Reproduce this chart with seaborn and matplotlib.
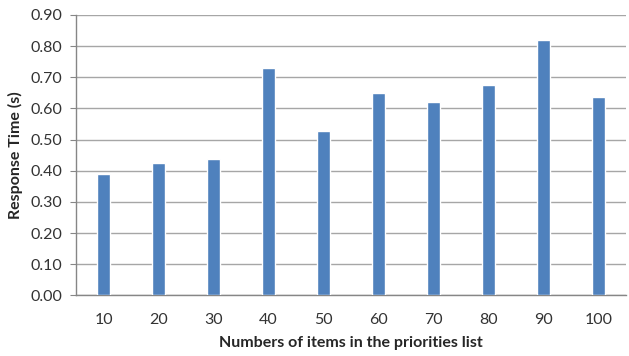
import matplotlib
matplotlib.use("Agg")
import matplotlib.pyplot as plt
import seaborn as sns
import pandas as pd

# values
items = ["10", "20", "30", "40", "50", "60", "70", "80", "90", "100"]
response_time = [0.390, 0.426, 0.439, 0.731, 0.526, 0.648, 0.619, 0.676, 0.818, 0.636]
y_ticks = [0.0, 0.1, 0.2, 0.3, 0.4, 0.5, 0.6, 0.7, 0.8, 0.9]

df = pd.DataFrame({"items": items, "time": response_time})

sns.set_style("white")
plt.rcParams["font.family"] = ["Lato", "DejaVu Sans"]

fig = plt.figure(figsize=(6.29, 3.56), dpi=100)
ax = fig.add_axes([0.121, 0.1705, 0.874, 0.7875])

sns.barplot(data=df, x="items", y="time", color="#4F81BD", width=0.245,
            saturation=1, ax=ax, zorder=3)

ax.set_ylim(0, 0.9)
ax.set_xlim(-0.5, len(items) - 0.5)
ax.set_yticks(y_ticks)
ax.set_yticklabels([f"{v:.2f}" for v in y_ticks])
ax.yaxis.grid(True, color="#A6A6A6", linewidth=1.0, zorder=0)
ax.set_axisbelow(True)

for s in ["top", "right"]:
    ax.spines[s].set_visible(False)
for s in ["left", "bottom"]:
    ax.spines[s].set_color("#868686")
    ax.spines[s].set_linewidth(1.0)

ax.tick_params(axis="y", which="both", left=True, length=4, color="#868686",
               labelsize=11.5, pad=6, labelcolor="#333333")
ax.tick_params(axis="x", bottom=False, labelsize=11.5, pad=9, labelcolor="#333333")

ax.set_xlabel("Numbers of items in the priorities list", fontsize=11.5,
              fontweight="bold", labelpad=7)
ax.set_ylabel("Response Time (s)", fontsize=11.5, fontweight="bold", labelpad=5)

fig.savefig("out.png", dpi=100)
